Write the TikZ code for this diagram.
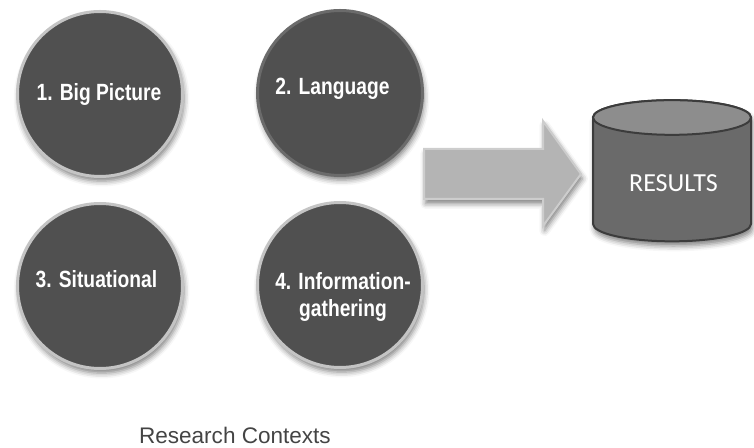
\documentclass[tikz,border=0pt]{standalone}
\usepackage{fontspec}
\setmainfont{Liberation Sans}
\newfontfamily\narrowfont[FakeStretch=0.82]{Liberation Sans}
\newfontfamily\carlito{Carlito}
\usetikzlibrary{shadows.blur}
\definecolor{cfill}{HTML}{505050}
\definecolor{cring}{HTML}{C4C4C4}
\definecolor{cringdark}{HTML}{6B6B6B}
\definecolor{arrfill}{HTML}{B4B4B4}
\definecolor{arrline}{HTML}{CDCDCD}
\definecolor{cylbody}{HTML}{6A6A6A}
\definecolor{cyltop}{HTML}{8D8D8D}
\definecolor{cylline}{HTML}{3C3C3C}
\definecolor{captext}{HTML}{444444}
\begin{document}
\begin{tikzpicture}[x=0.75pt,y=-0.75pt,
  softshadow/.style={blur shadow={shadow xshift=1.2pt, shadow yshift=-3.5pt, shadow blur radius=4pt, shadow opacity=50}},
  ctx/.style={circle, inner sep=0pt, minimum size=123.75pt, fill=cfill, draw=cring, line width=2.25pt, softshadow},
  lbl/.style={text=white, inner sep=0pt, font=\narrowfont\bfseries\fontsize{17.6pt}{20.25pt}\selectfont, align=center},
]
\useasboundingbox (0,0) rectangle (754,448);

% context circles
\node[ctx] (c1) at (100,94) {};
\node[ctx, draw=cringdark] (c2) at (340,93) {};
\node[ctx] (c3) at (100,286) {};
\node[ctx] (c4) at (340,285) {};

\node[lbl, anchor=base] (t1) at (99,101) {1. Big Picture};
\node[lbl, anchor=base] (t2) at (332.5,95) {2. Language};
\node[lbl, anchor=base] (t3) at (96.5,288) {3. Situational};
\node[lbl, anchor=base] (t4) at (343,317) {4. Information-\\gathering};

% block arrow
\draw[fill=arrfill, draw=arrline, line width=1.5pt, softshadow]
  (424,149) -- (543,149) -- (543,121) -- (581,174) -- (543,226) -- (543,199) -- (424,199) -- cycle;

% cylinder
\draw[fill=cylbody, draw=cylline, line width=1.5pt, softshadow]
  (593,117.5) -- (593,224) arc[start angle=180, end angle=360, x radius=59.25pt, y radius=13pt]
  -- (751,117.5) arc[start angle=0, end angle=180, x radius=59.25pt, y radius=13pt] -- cycle;
\draw[fill=cyltop, draw=cylline, line width=1.5pt] (672,117.5) ellipse [x radius=59.25pt, y radius=13pt];
\node[text=white, inner sep=0pt, anchor=base, font=\carlito\fontsize{19.5pt}{23pt}\selectfont] (res) at (673.5,192) {RESULTS};

% caption
\node[text=captext, inner sep=0pt, anchor=base east, font=\fontsize{16.9pt}{20pt}\selectfont] (cap) at (331,444) {Research Contexts};
\end{tikzpicture}
\end{document}
